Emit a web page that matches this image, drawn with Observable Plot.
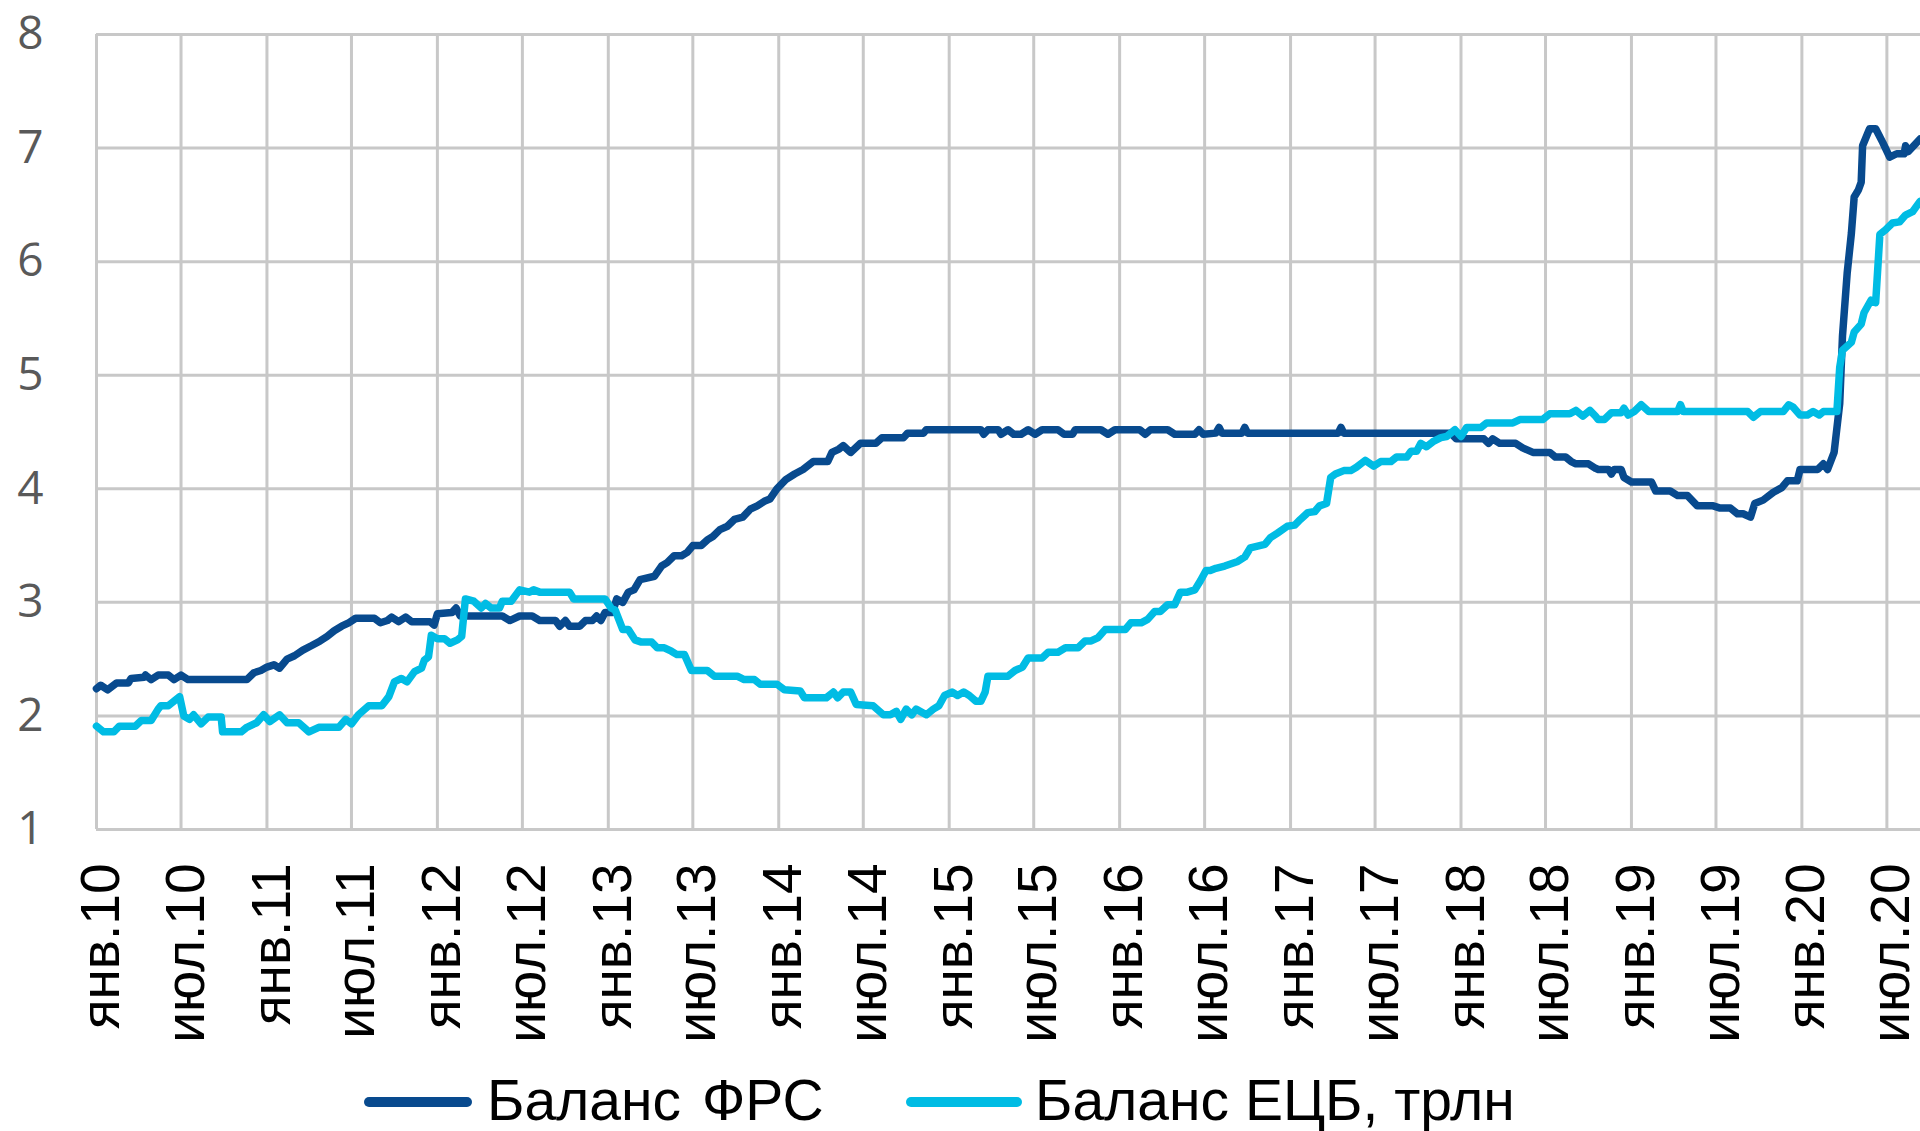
<!DOCTYPE html>
<html>
<head>
<meta charset="utf-8">
<script src="https://cdn.jsdelivr.net/npm/d3@7"></script>
<script src="https://cdn.jsdelivr.net/npm/@observablehq/plot@0.6"></script>
<style>
html, body { margin: 0; padding: 0; background: #fff; }
#wrap { width: 1920px; height: 1131px; position: relative; overflow: hidden; background: #fff; }
#legend { position: absolute; left: 0; top: 1050px; width: 1920px; height: 81px; font-family: "Liberation Sans", Arial, sans-serif; font-size: 57px; color: #000; }
.key { position: absolute; height: 10px; border-radius: 5px; top: 47px; }
.lab { position: absolute; top: 22px; line-height: 1; white-space: pre; }
</style>
</head>
<body>
<div id="wrap">
  <div id="chart"></div>
  <div id="legend"></div>
</div>
<script>
// ---------- data ----------
const seriesNames = ["Баланс ФРС", "Баланс ЕЦБ, трлн"];
const seriesColors = ["#084A8E", "#00BCE4"];

const tickDates = ["2010-01-01","2010-07-01","2011-01-01","2011-07-01","2012-01-01","2012-07-01","2013-01-01","2013-07-01","2014-01-01","2014-07-01","2015-01-01","2015-07-01","2016-01-01","2016-07-01","2017-01-01","2017-07-01","2018-01-01","2018-07-01","2019-01-01","2019-07-01","2020-01-01","2020-07-01"];
const tickLabels = ["янв.10","июл.10","янв.11","июл.11","янв.12","июл.12","янв.13","июл.13","янв.14","июл.14","янв.15","июл.15","янв.16","июл.16","янв.17","июл.17","янв.18","июл.18","янв.19","июл.19","янв.20","июл.20"];
const yTicks = [1, 2, 3, 4, 5, 6, 7, 8];

const fedDates = ["2010-01-01","2010-01-10","2010-01-25","2010-02-13","2010-03-10","2010-03-16","2010-04-13","2010-04-16","2010-04-28","2010-05-13","2010-06-04","2010-06-16","2010-07-01","2010-07-16","2010-11-19","2010-12-04","2010-12-19","2011-01-01","2011-01-16","2011-01-28","2011-02-13","2011-03-01","2011-03-19","2011-04-07","2011-04-25","2011-05-10","2011-05-25","2011-06-10","2011-06-25","2011-07-10","2011-08-19","2011-09-01","2011-09-16","2011-09-25","2011-10-10","2011-10-25","2011-11-07","2011-12-16","2011-12-25","2012-01-01","2012-02-01","2012-02-10","2012-02-19","2012-05-19","2012-06-04","2012-06-25","2012-07-22","2012-08-07","2012-09-10","2012-09-19","2012-10-01","2012-10-10","2012-11-01","2012-11-13","2012-11-28","2012-12-07","2012-12-16","2012-12-25","2013-01-10","2013-01-19","2013-02-01","2013-02-13","2013-02-25","2013-03-10","2013-04-10","2013-04-25","2013-05-07","2013-05-22","2013-06-07","2013-06-19","2013-07-01","2013-07-19","2013-08-01","2013-08-13","2013-08-28","2013-09-13","2013-09-28","2013-10-16","2013-11-01","2013-11-16","2013-12-01","2013-12-13","2013-12-28","2014-01-16","2014-02-04","2014-02-22","2014-03-16","2014-04-16","2014-04-25","2014-05-10","2014-05-19","2014-06-04","2014-06-25","2014-07-28","2014-08-10","2014-09-25","2014-10-04","2014-11-07","2014-11-13","2015-03-10","2015-03-16","2015-03-25","2015-04-16","2015-04-22","2015-05-07","2015-05-19","2015-06-04","2015-06-19","2015-07-04","2015-07-19","2015-08-22","2015-09-04","2015-09-22","2015-09-28","2015-11-22","2015-12-07","2015-12-22","2016-02-13","2016-02-25","2016-03-07","2016-04-13","2016-04-28","2016-06-10","2016-06-19","2016-06-28","2016-07-25","2016-08-01","2016-08-07","2016-09-19","2016-09-25","2016-10-01","2017-04-13","2017-04-19","2017-04-25","2017-12-10","2017-12-22","2018-02-19","2018-03-01","2018-03-10","2018-03-25","2018-04-28","2018-05-13","2018-06-04","2018-07-10","2018-07-22","2018-08-13","2018-08-25","2018-09-04","2018-10-01","2018-10-16","2018-10-22","2018-11-13","2018-11-19","2018-11-25","2018-12-10","2018-12-16","2019-01-01","2019-02-13","2019-02-22","2019-03-25","2019-04-10","2019-05-01","2019-05-22","2019-06-25","2019-07-10","2019-08-01","2019-08-16","2019-08-28","2019-09-13","2019-09-22","2019-10-10","2019-11-01","2019-11-19","2019-12-01","2019-12-22","2019-12-28","2020-02-04","2020-02-16","2020-02-25","2020-03-10","2020-03-22","2020-03-28","2020-04-07","2020-04-16","2020-04-22","2020-05-01","2020-05-07","2020-05-10","2020-05-25","2020-06-07","2020-06-22","2020-07-07","2020-07-22","2020-08-07","2020-08-10","2020-08-16","2020-09-10"];
const fedValues = [2.24,2.27,2.23,2.29,2.29,2.33,2.34,2.36,2.32,2.36,2.36,2.32,2.36,2.32,2.32,2.38,2.40,2.43,2.45,2.42,2.50,2.53,2.58,2.62,2.66,2.70,2.75,2.79,2.82,2.86,2.86,2.82,2.84,2.87,2.83,2.87,2.83,2.83,2.80,2.90,2.91,2.95,2.88,2.88,2.84,2.88,2.88,2.84,2.84,2.79,2.84,2.79,2.79,2.84,2.84,2.88,2.84,2.91,2.91,3.03,3.00,3.09,3.11,3.20,3.23,3.32,3.35,3.41,3.41,3.44,3.50,3.50,3.55,3.58,3.64,3.67,3.73,3.75,3.82,3.85,3.89,3.91,4.00,4.08,4.13,4.17,4.24,4.24,4.32,4.35,4.38,4.32,4.40,4.40,4.45,4.45,4.49,4.49,4.52,4.52,4.48,4.52,4.52,4.48,4.52,4.48,4.48,4.52,4.48,4.52,4.52,4.48,4.48,4.52,4.52,4.48,4.52,4.52,4.48,4.52,4.52,4.48,4.48,4.52,4.48,4.49,4.54,4.49,4.49,4.54,4.49,4.49,4.54,4.49,4.49,4.44,4.44,4.40,4.44,4.40,4.40,4.36,4.32,4.32,4.28,4.28,4.24,4.22,4.22,4.18,4.17,4.17,4.13,4.17,4.17,4.10,4.06,4.06,3.98,3.98,3.94,3.94,3.85,3.85,3.83,3.83,3.78,3.78,3.75,3.87,3.90,3.97,4.01,4.07,4.07,4.17,4.17,4.22,4.17,4.32,4.75,5.35,5.90,6.25,6.57,6.63,6.70,7.02,7.17,7.17,7.05,6.92,6.95,6.95,7.02,6.97,7.08];

const ecbDates = ["2010-01-01","2010-01-16","2010-02-07","2010-02-19","2010-03-25","2010-04-07","2010-04-28","2010-05-13","2010-05-19","2010-06-04","2010-06-16","2010-06-28","2010-07-07","2010-07-19","2010-07-28","2010-08-13","2010-08-28","2010-09-25","2010-09-28","2010-11-07","2010-11-19","2010-12-10","2010-12-25","2011-01-07","2011-01-28","2011-02-13","2011-03-10","2011-04-01","2011-04-22","2011-06-04","2011-06-19","2011-07-01","2011-07-16","2011-08-07","2011-09-04","2011-09-19","2011-10-01","2011-10-16","2011-10-28","2011-11-13","2011-11-28","2011-12-04","2011-12-13","2011-12-19","2012-01-01","2012-01-16","2012-01-28","2012-02-13","2012-02-22","2012-03-01","2012-03-19","2012-04-04","2012-04-13","2012-04-25","2012-05-13","2012-05-19","2012-06-07","2012-06-25","2012-07-16","2012-07-25","2012-08-07","2012-10-10","2012-10-19","2012-12-25","2013-01-07","2013-01-16","2013-02-01","2013-02-13","2013-02-27","2013-03-13","2013-04-04","2013-04-16","2013-05-01","2013-05-16","2013-05-28","2013-06-13","2013-06-28","2013-08-01","2013-08-16","2013-10-04","2013-10-19","2013-11-10","2013-11-22","2013-12-28","2014-01-13","2014-02-16","2014-02-25","2014-04-13","2014-04-28","2014-05-07","2014-05-19","2014-06-04","2014-06-16","2014-07-22","2014-08-13","2014-08-28","2014-09-10","2014-09-19","2014-10-01","2014-10-13","2014-10-22","2014-11-13","2014-11-28","2014-12-10","2014-12-22","2015-01-07","2015-01-19","2015-02-01","2015-02-13","2015-02-27","2015-03-10","2015-03-19","2015-03-25","2015-05-07","2015-05-22","2015-06-07","2015-06-19","2015-07-19","2015-08-01","2015-08-22","2015-09-07","2015-10-04","2015-10-19","2015-11-01","2015-11-16","2015-12-01","2016-01-13","2016-01-25","2016-02-16","2016-03-01","2016-03-16","2016-03-28","2016-04-13","2016-04-28","2016-05-10","2016-05-25","2016-06-10","2016-06-22","2016-07-04","2016-07-13","2016-07-25","2016-08-13","2016-09-10","2016-09-25","2016-10-07","2016-11-07","2016-11-19","2016-12-04","2016-12-25","2017-01-10","2017-01-22","2017-02-07","2017-02-22","2017-03-04","2017-03-19","2017-03-28","2017-04-07","2017-04-25","2017-05-10","2017-05-22","2017-06-10","2017-06-28","2017-07-13","2017-08-04","2017-08-16","2017-09-07","2017-09-16","2017-09-28","2017-10-07","2017-10-19","2017-11-04","2017-11-19","2017-12-01","2017-12-19","2018-01-01","2018-01-13","2018-02-13","2018-02-25","2018-04-22","2018-05-07","2018-06-25","2018-07-10","2018-08-22","2018-09-04","2018-09-19","2018-10-04","2018-10-16","2018-10-22","2018-11-04","2018-11-19","2018-12-10","2018-12-16","2018-12-25","2019-01-07","2019-01-22","2019-02-07","2019-04-10","2019-04-16","2019-04-22","2019-09-07","2019-09-19","2019-10-04","2019-11-22","2019-12-04","2019-12-13","2019-12-28","2020-01-13","2020-01-25","2020-02-07","2020-02-16","2020-03-16","2020-03-22","2020-03-28","2020-04-16","2020-04-22","2020-05-07","2020-05-13","2020-05-28","2020-06-07","2020-06-16","2020-06-28","2020-07-13","2020-07-28","2020-08-10","2020-08-25","2020-09-10"];
const ecbValues = [1.91,1.86,1.86,1.91,1.91,1.96,1.96,2.06,2.09,2.09,2.13,2.17,2.00,1.97,2.01,1.93,1.99,1.99,1.86,1.86,1.90,1.94,2.01,1.95,2.01,1.94,1.94,1.86,1.90,1.90,1.97,1.93,2.01,2.09,2.09,2.17,2.30,2.33,2.30,2.39,2.42,2.49,2.52,2.71,2.68,2.68,2.64,2.67,2.70,3.03,3.01,2.95,2.99,2.95,2.95,3.01,3.01,3.11,3.09,3.11,3.09,3.09,3.03,3.03,2.95,2.93,2.76,2.76,2.67,2.65,2.65,2.60,2.60,2.57,2.54,2.54,2.40,2.40,2.35,2.35,2.32,2.32,2.28,2.28,2.23,2.22,2.16,2.16,2.21,2.16,2.21,2.21,2.10,2.09,2.01,2.01,2.04,1.97,2.06,2.01,2.06,2.01,2.06,2.09,2.18,2.21,2.18,2.21,2.18,2.13,2.13,2.21,2.35,2.35,2.40,2.43,2.51,2.51,2.56,2.56,2.60,2.60,2.66,2.66,2.69,2.76,2.76,2.82,2.82,2.85,2.92,2.92,2.98,2.98,3.09,3.09,3.11,3.19,3.28,3.28,3.30,3.32,3.36,3.40,3.48,3.51,3.57,3.61,3.67,3.68,3.73,3.79,3.80,3.85,3.87,4.10,4.13,4.16,4.16,4.19,4.25,4.20,4.24,4.24,4.28,4.28,4.33,4.33,4.40,4.37,4.42,4.45,4.46,4.52,4.46,4.54,4.54,4.58,4.58,4.61,4.61,4.66,4.66,4.69,4.64,4.69,4.64,4.61,4.61,4.67,4.67,4.71,4.65,4.68,4.74,4.68,4.68,4.74,4.68,4.68,4.63,4.68,4.68,4.74,4.72,4.65,4.65,4.68,4.65,4.68,4.68,5.07,5.22,5.29,5.38,5.45,5.55,5.66,5.64,6.24,6.28,6.34,6.35,6.41,6.44,6.53];

// ---------- build ----------
const parse = d3.utcParse("%Y-%m-%d");
const fed = fedDates.map((d, i) => ({date: parse(d), value: fedValues[i]}));
const ecb = ecbDates.map((d, i) => ({date: parse(d), value: ecbValues[i]}));
const ticks = tickDates.map(parse);
const labelOf = d => tickLabels[ticks.findIndex(t => +t === +d)];

const gridColor = "#C8C8C8";

const chart = Plot.plot({
  width: 1920,
  height: 1050,
  marginTop: 34,
  marginBottom: 221,
  marginLeft: 96,
  marginRight: 0,
  style: {background: "#fff", overflow: "hidden"},
  x: {type: "utc", domain: [parse("2010-01-01"), parse("2020-09-11")]},
  y: {domain: [1, 8]},
  marks: [
    Plot.gridX(ticks, {stroke: gridColor, strokeOpacity: 1, strokeWidth: 3}),
    Plot.gridY(yTicks, {stroke: gridColor, strokeOpacity: 1, strokeWidth: 3}),
    Plot.axisY(yTicks, {tickSize: 0, tickPadding: 53, fontSize: 46, fontFamily: "Open Sans", fill: "#595959", label: null, tickFormat: d => String(d)}),
    Plot.axisX(ticks, {tickSize: 0, tickRotate: -90, tickPadding: 34, fontSize: 55, fontFamily: "Liberation Sans", fill: "#000", label: null, tickFormat: labelOf, dx: 5}),
    Plot.line(fed, {x: "date", y: "value", stroke: seriesColors[0], strokeWidth: 7.5, strokeLinejoin: "round", strokeLinecap: "round"}),
    Plot.line(ecb, {x: "date", y: "value", stroke: seriesColors[1], strokeWidth: 7.5, strokeLinejoin: "round", strokeLinecap: "round"})
  ]
});
document.getElementById("chart").appendChild(chart);

// ---------- legend (HTML, below the SVG) ----------
const legend = document.getElementById("legend");
const legendLayout = [
  {keyLeft: 364, keyWidth: 108, textLeft: 487, wordSpacing: 5},
  {keyLeft: 906, keyWidth: 116, textLeft: 1035, wordSpacing: 0}
];
seriesNames.forEach((name, i) => {
  const k = document.createElement("div");
  k.className = "key";
  k.style.left = legendLayout[i].keyLeft + "px";
  k.style.width = legendLayout[i].keyWidth + "px";
  k.style.background = seriesColors[i];
  legend.appendChild(k);
  const t = document.createElement("div");
  t.className = "lab";
  t.style.left = legendLayout[i].textLeft + "px";
  t.style.wordSpacing = legendLayout[i].wordSpacing + "px";
  t.textContent = name;
  legend.appendChild(t);
});
</script>
</body>
</html>
